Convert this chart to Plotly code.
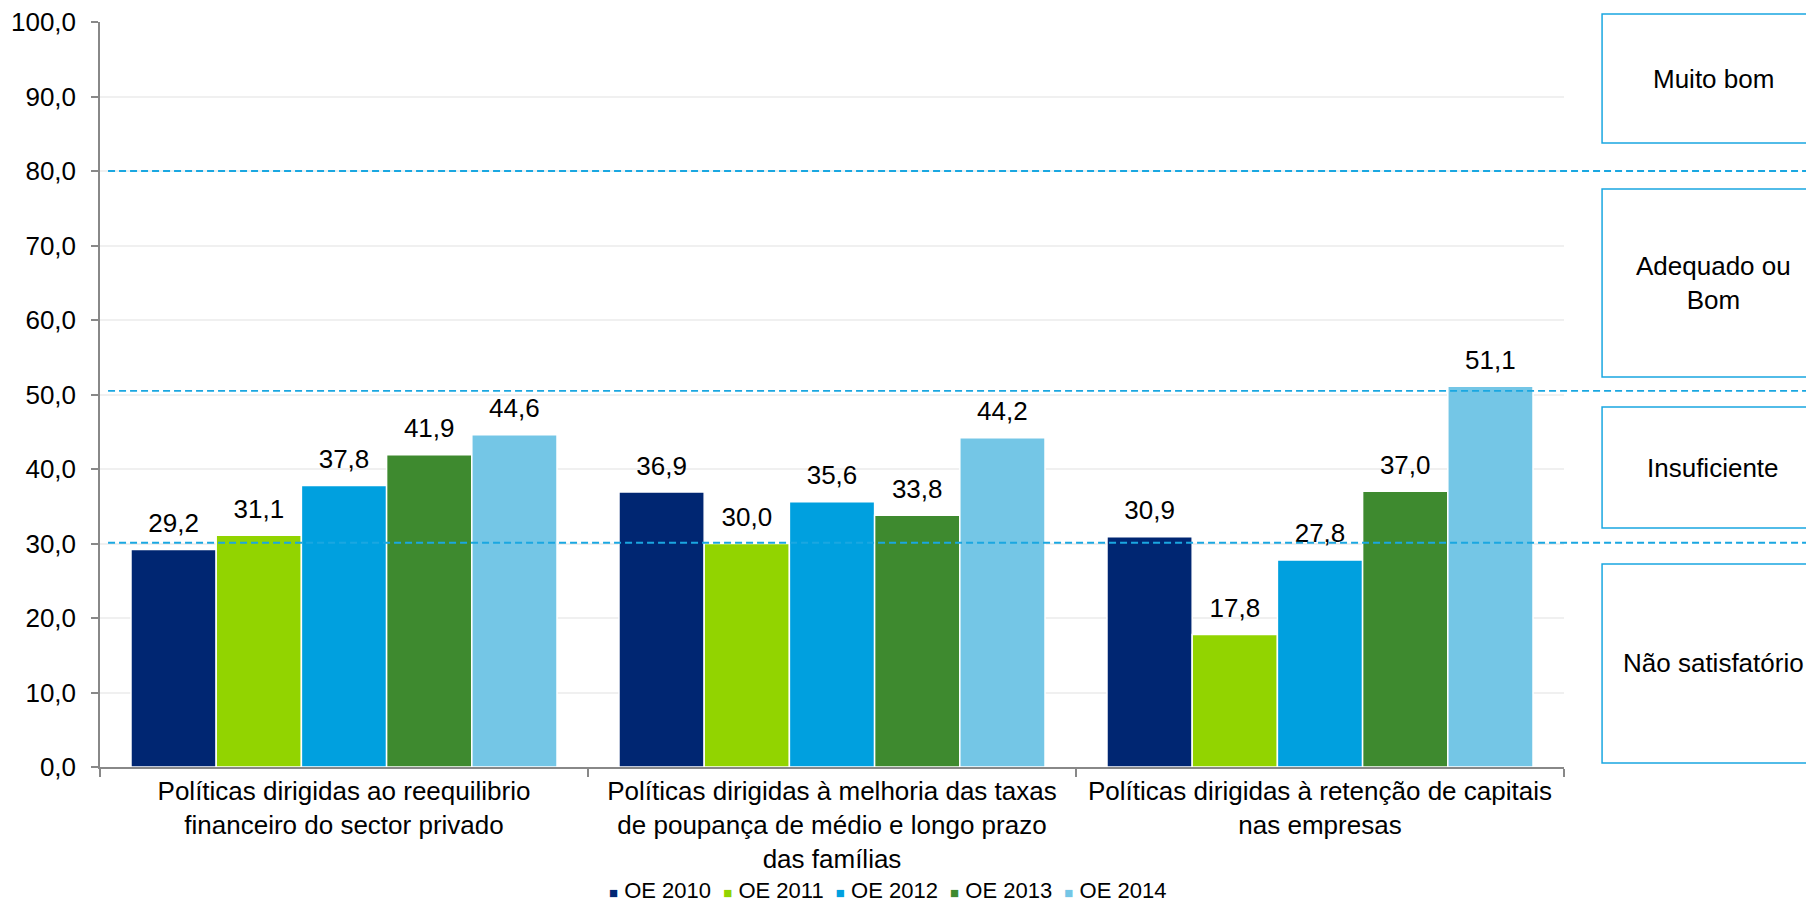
import plotly.graph_objects as go

# categories (x axis)
categories = [
    "Políticas dirigidas ao reequilibrio<br>financeiro do sector privado",
    "Políticas dirigidas à melhoria das taxas<br>de poupança de médio e longo prazo<br>das famílias",
    "Políticas dirigidas à retenção de capitais<br>nas empresas",
]

# series values
oe_2010 = [29.2, 36.9, 30.9]
oe_2011 = [31.1, 30.0, 17.8]
oe_2012 = [37.8, 35.6, 27.8]
oe_2013 = [41.9, 33.8, 37.0]
oe_2014 = [44.6, 44.2, 51.1]

series_names = ["OE 2010", "OE 2011", "OE 2012", "OE 2013", "OE 2014"]
series_values = [oe_2010, oe_2011, oe_2012, oe_2013, oe_2014]
series_colors = ["#002672", "#92D400", "#00A0DF", "#3E8A2F", "#74C6E6"]

# threshold levels (dashed lines) and rating boxes
thresholds = [80.0, 50.5, 30.1]
rating_labels = ["Muito bom", "Adequado ou<br>Bom", "Insuficiente", "Não satisfatório"]

FONT = "Arial, Liberation Sans, sans-serif"
LINE_BLUE = "#1AA7E1"
AXIS_GREY = "#888888"
GAP = 0.127

fig = go.Figure()

for name, vals, color in zip(series_names, series_values, series_colors):
    fig.add_trace(go.Bar(
        x=categories,
        y=vals,
        name=name,
        offsetgroup=name,
        marker=dict(color=color, line=dict(color="white", width=1.5)),
        showlegend=False,
    ))

# value labels: invisible markers carry the text so it sits a bit above the bar
for name, vals in zip(series_names, series_values):
    fig.add_trace(go.Scatter(
        x=categories,
        y=vals,
        mode="markers+text",
        offsetgroup=name,
        text=[f"{v:.1f}".replace(".", ",") for v in vals],
        textposition="top center",
        textfont=dict(size=26, color="black", family=FONT),
        marker=dict(size=16, opacity=0),
        showlegend=False,
        hoverinfo="skip",
        cliponaxis=False,
    ))

# dashed threshold lines, running out past the plot to the right edge
for level in thresholds:
    fig.add_shape(
        type="line", xref="paper", yref="y",
        x0=0.0055, x1=1.2, y0=level, y1=level,
        line=dict(color=LINE_BLUE, width=1.8, dash="7px,4px"),
        layer="above",
    )

# rating boxes on the right (paper coords)
box_spans = [(0.8376, 1.0107), (0.5235, 0.7758), (0.3208, 0.4832), (0.0054, 0.2725)]
for (y0, y1), label in zip(box_spans, rating_labels):
    fig.add_shape(
        type="rect", xref="paper", yref="paper",
        x0=1.026, x1=1.178, y0=y0, y1=y1,
        line=dict(color=LINE_BLUE, width=1.5),
        fillcolor="white",
    )
    fig.add_annotation(
        xref="paper", yref="paper",
        x=1.1018, y=(y0 + y1) / 2,
        text=label, showarrow=False,
        font=dict(size=26, color="black", family=FONT),
        xanchor="center", yanchor="middle",
    )

# Excel-style compact legend: small coloured square + series name
legend_text = "\u00a0\u00a0".join(
    f'<span style="color:{c};font-size:15px">■</span>\u00a0{n}'
    for n, c in zip(series_names, series_colors)
)
fig.add_annotation(
    xref="paper", yref="paper",
    x=0.538, y=-0.166,
    text=legend_text, showarrow=False,
    font=dict(size=22, color="black", family=FONT),
    xanchor="center", yanchor="middle",
)

fig.update_layout(
    width=1806,
    height=894,
    barmode="group",
    bargap=GAP,
    bargroupgap=0,
    scattermode="group",
    scattergap=GAP,
    separators=",.",
    paper_bgcolor="white",
    plot_bgcolor="white",
    font=dict(family=FONT, size=26, color="black"),
    margin=dict(l=92, r=250, t=14, b=135, autoexpand=False),
    showlegend=False,
    xaxis=dict(
        showline=True, linecolor=AXIS_GREY, linewidth=1.5,
        ticks="outside", tickson="boundaries", ticklen=8,
        tickcolor=AXIS_GREY, tickwidth=1.5,
        tickfont=dict(size=26, family=FONT, color="black"),
        showgrid=False,
    ),
    yaxis=dict(
        range=[0, 100], dtick=10, tickformat=".1f",
        showline=True, linecolor=AXIS_GREY, linewidth=1.5,
        ticks="outside", ticklen=7, tickcolor=AXIS_GREY, tickwidth=1.5,
        ticklabelstandoff=10, ticklabeloverflow="allow",
        tickfont=dict(size=26, family=FONT, color="black"),
        showgrid=True, gridcolor="#F0F0F0", gridwidth=1.5,
        zeroline=False,
    ),
)

fig.write_html("out.html")
